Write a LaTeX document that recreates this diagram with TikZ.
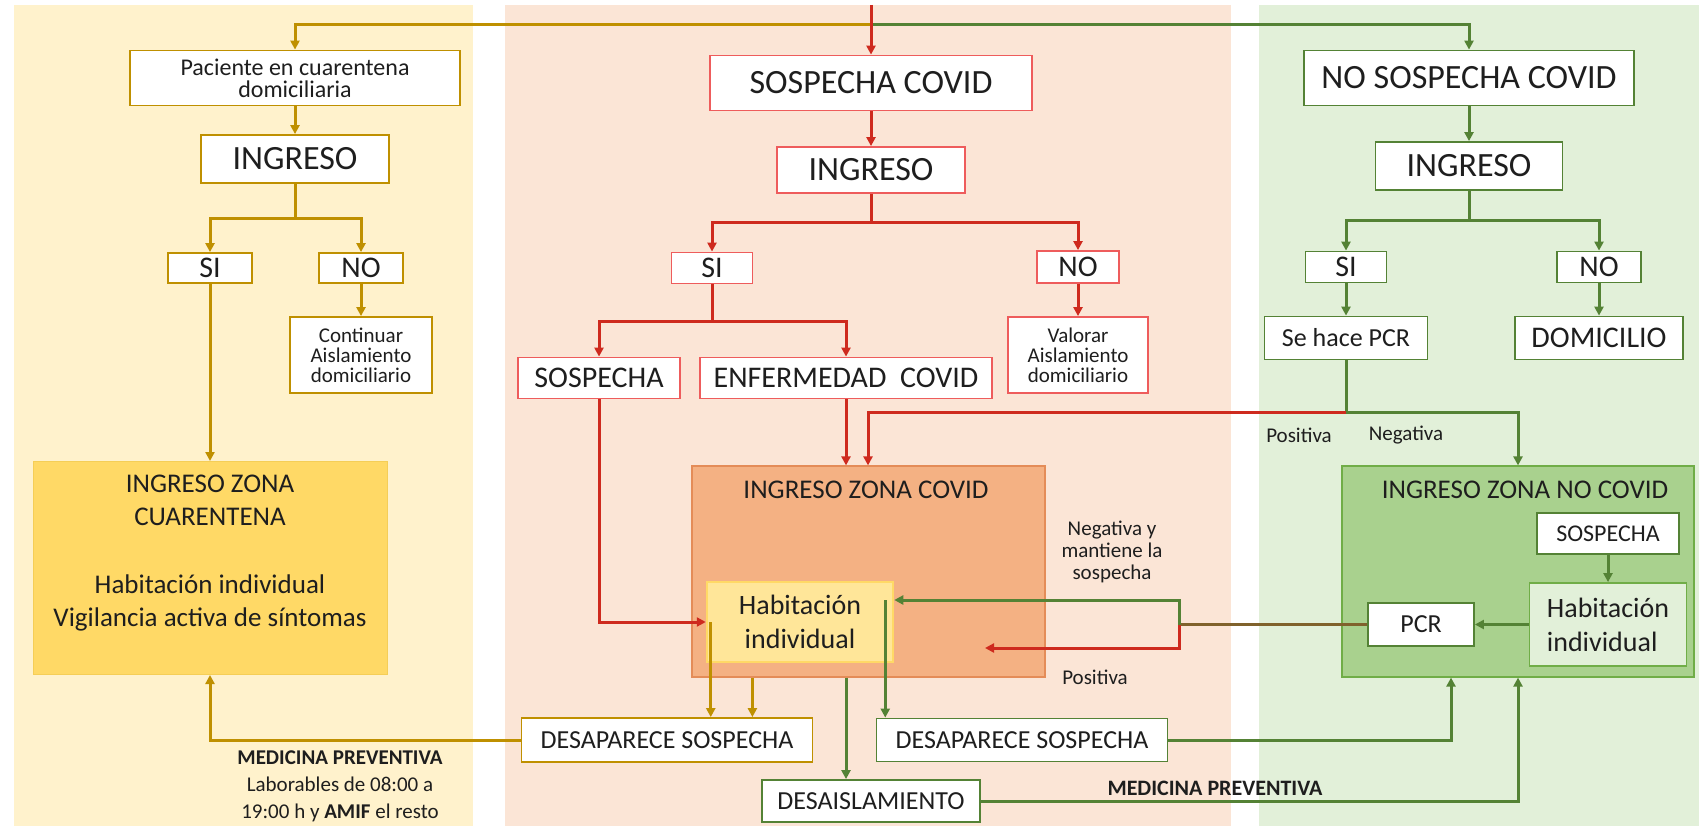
\documentclass[tikz,border=0pt]{standalone}
\usepackage{fontspec}
\setmainfont{Carlito}
\definecolor{mlgold}{RGB}{191,144,0}
\definecolor{mlred}{RGB}{206,42,30}
\definecolor{mlredlt}{RGB}{238,92,92}
\definecolor{mlgreen}{RGB}{84,130,53}
\definecolor{mlolive}{RGB}{128,98,44}
\definecolor{mltext}{RGB}{30,30,30}
\definecolor{bgyellow}{RGB}{255,242,204}
\definecolor{bgsalmon}{RGB}{251,229,214}
\definecolor{bggreen}{RGB}{226,240,217}
\definecolor{cuarfill}{RGB}{255,217,102}
\definecolor{covfill}{RGB}{244,177,131}
\definecolor{covdraw}{RGB}{228,140,88}
\definecolor{habfill}{RGB}{255,230,153}
\definecolor{ncfill}{RGB}{169,209,142}
\definecolor{ncdraw}{RGB}{112,173,71}
\usetikzlibrary{arrows.meta}

\begin{document}
\begin{tikzpicture}[x=1pt,y=-1pt,>={Triangle[length=9pt,width=9pt]},
  box/.style={draw,fill=white,line width=1.8pt,inner sep=0pt,align=center,text=mltext},
  goldbox/.style={box,draw=mlgold},
  redbox/.style={box,draw=mlredlt},
  greenbox/.style={box,draw=mlgreen},
  goldln/.style={draw=mlgold,line width=3pt},
  redln/.style={draw=mlred,line width=3pt},
  greenln/.style={draw=mlgreen,line width=3pt},
  fbig/.style={font=\fontsize{34}{38}\selectfont},
  fmid/.style={font=\fontsize{30}{32}\selectfont},
  fbox/.style={font=\fontsize{26}{30}\selectfont},
  fzone/.style={font=\fontsize{27}{33}\selectfont},
  fhab/.style={font=\fontsize{28}{34}\selectfont},
  fsmall/.style={font=\fontsize{24}{22}\selectfont},
  ftiny/.style={font=\fontsize{21}{20}\selectfont},
  flabel/.style={font=\fontsize{21}{22}\selectfont,text=mltext,align=center,inner sep=0pt}]
  \useasboundingbox (0,0) rectangle (1699,826);
  %% Column backgrounds
  \fill[bgyellow] (14,5) rectangle (473,826);
  \fill[bgsalmon] (505,5) rectangle (1231,826);
  \fill[bggreen] (1259,5) rectangle (1699,826);

  %% Quarantine column
  \node[goldbox,fsmall,minimum width=330,minimum height=55] (pac) at (295,78) {Paciente en cuarentena\\domiciliaria};
  \node[goldbox,fbig,minimum width=188,minimum height=48] (ingL) at (295,159) {INGRESO};
  \node[goldbox,fmid,minimum width=84,minimum height=30] (siL) at (210,268) {SI};
  \node[goldbox,fmid,minimum width=84,minimum height=30] (noL) at (361,268) {NO};
  \node[goldbox,ftiny,minimum width=142,minimum height=76] (contL) at (361,355) {Continuar\\Aislamiento\\domiciliario};
  \node[draw=cuarfill!85!mlgold,fill=cuarfill,line width=1pt,minimum width=354,minimum height=213] (cuar) at (210,568) {};
  \node[fzone,text=mltext,align=center] (cuarT) at (210,553) {INGRESO ZONA\\CUARENTENA\\[35pt]Habitación individual\\Vigilancia activa de síntomas};

  %% Covid column
  \node[redbox,fbig,minimum width=322,minimum height=55] (sosC) at (871,83) {SOSPECHA COVID};
  \node[redbox,fbig,minimum width=188,minimum height=46] (ingM) at (871,170) {INGRESO};
  \node[redbox,fmid,minimum width=81,minimum height=31] (siM) at (712,268) {SI};
  \node[redbox,fmid,minimum width=82,minimum height=32] (noM) at (1078,267) {NO};
  \node[redbox,ftiny,minimum width=140,minimum height=76] (valM) at (1078,355) {Valorar\\Aislamiento\\domiciliario};
  \node[redbox,fmid,minimum width=162,minimum height=41] (sosM) at (599,378) {SOSPECHA};
  \node[redbox,fmid,minimum width=292,minimum height=41] (enfM) at (846,378) {ENFERMEDAD~ COVID};
  \node[draw=covdraw,fill=covfill,line width=1.2pt,minimum width=353,minimum height=211] (zcov) at (868.5,571.5) {};
  \node[fzone,text=mltext] (zcovT) at (866,490) {INGRESO ZONA COVID};
  \node[box,draw=cuarfill,fill=habfill,fhab,line width=2.5pt,minimum width=186,minimum height=80] (habC) at (800,622) {Habitación\\individual};
  \node[goldbox,fbox,minimum width=291,minimum height=44] (desL) at (667,740) {DESAPARECE SOSPECHA};
  \node[greenbox,fbox,minimum width=291,minimum height=43] (desR) at (1022,740) {DESAPARECE SOSPECHA};
  \node[greenbox,fbox,minimum width=218,minimum height=42] (desA) at (871,801) {DESAISLAMIENTO};

  %% Non covid column
  \node[greenbox,fbig,minimum width=330,minimum height=55] (noS) at (1469,78) {NO SOSPECHA COVID};
  \node[greenbox,fbig,minimum width=187,minimum height=48] (ingR) at (1469,166) {INGRESO};
  \node[greenbox,fmid,minimum width=81,minimum height=31] (siR) at (1346,267) {SI};
  \node[greenbox,fmid,minimum width=84,minimum height=31] (noR) at (1599,267) {NO};
  \node[greenbox,fbox,minimum width=163,minimum height=43] (pcrS) at (1346,338) {Se hace PCR};
  \node[greenbox,fmid,minimum width=168,minimum height=43] (domR) at (1599,338) {DOMICILIO};
  \node[draw=ncdraw,fill=ncfill,line width=1.2pt,minimum width=352,minimum height=211] (znc) at (1518,571.5) {};
  \node[fzone,text=mltext] (zncT) at (1525,490) {INGRESO ZONA NO COVID};
  \node[greenbox,fsmall,minimum width=142,minimum height=41] (sosG) at (1608,533.5) {SOSPECHA};
  \node[box,draw=ncdraw,fill=bggreen,fhab,align=left,minimum width=157,minimum height=83] (habG) at (1608,624.5) {Habitación\\individual};
  \node[greenbox,fbox,minimum width=106,minimum height=43] (pcrG) at (1421,624.5) {PCR};

  %% Labels
  \node[flabel] (lpos) at (1299,435) {Positiva};
  \node[flabel] (lneg) at (1406,435) {Negativa};
  \node[flabel] (lneg2) at (1112,552) {Negativa y\\mantiene la\\sospecha};
  \node[flabel] (lpos2) at (1095,677) {Positiva};
  \node[flabel,font=\fontsize{22}{24}\selectfont\bfseries] (lmed) at (1215,788) {MEDICINA PREVENTIVA};
  \node[flabel,font=\fontsize{21}{27}\selectfont] (lmedL) at (340,786) {\textbf{MEDICINA PREVENTIVA}\\Laborables de 08:00 a\\19:00 h y \textbf{AMIF} el resto};

  %% Entry
  \coordinate (rtop) at (871,5);
  \coordinate (jt) at (871,25);
  \draw[goldln,->] (jt) -| (pac);
  \draw[greenln,->] (jt) -| (noS);
  \draw[redln,->] (rtop) -- (sosC);

  %% Quarantine connectors
  \draw[goldln,->] (pac) -- (ingL);
  \draw[goldln] (ingL.south) -- ++(0,35) coordinate (jl);
  \draw[goldln,->] (jl) -| (siL);
  \draw[goldln,->] (jl) -| (noL);
  \draw[goldln,->] (noL) -- (contL);
  \draw[goldln,->] (siL) -- (cuar);

  %% Covid connectors
  \draw[redln,->] (sosC) -- (ingM);
  \draw[redln] (ingM.south) -- ++(0,29) coordinate (jm);
  \draw[redln,->] (jm) -| (siM);
  \draw[redln,->] (jm) -| (noM);
  \draw[redln,->] (noM) -- (valM);
  \draw[redln] (siM.south) -- ++(0,37) coordinate (js);
  \draw[redln,->] (js) -| (sosM);
  \draw[redln,->] (js) -| (enfM);
  \draw[redln,->] (enfM.south) -- (enfM.south |- zcov.north);
  \draw[redln,->] (sosM.south) |- (habC.west);

  %% Non covid connectors
  \draw[greenln,->] (noS) -- (ingR);
  \draw[greenln] (ingR.south) -- ++(0,30) coordinate (jr);
  \draw[greenln,->] (jr) -| (siR);
  \draw[greenln,->] (jr) -| (noR);
  \draw[greenln,->] (siR) -- (pcrS);
  \draw[greenln,->] (noR) -- (domR);
  \draw[greenln] (pcrS.south) -- ++(0,52) coordinate (jp);
  \draw[redln,->] (jp) -| ([xshift=22pt]enfM.south |- zcov.north);
  \draw[greenln,->] (jp) -| (znc);
  \draw[greenln,->] (sosG) -- (habG);
  \draw[greenln,->] (habG) -- (pcrG);

  %% PCR result back to covid zone
  \coordinate (pk) at ([xshift=-188pt]pcrG.west);
  \coordinate (hce) at ([yshift=22pt]habC.east);
  \coordinate (gk) at ([xshift=-9pt]hce);
  \coordinate (rpos) at (985,648);
  \draw[line width=3pt,mlolive] (pcrG.west) -- (pk);
  \draw[greenln,->] (pk) |- (hce);
  \draw[redln,->] (pk) |- (rpos);
  \draw[greenln,->] (gk) -- (gk |- desR.north);

  %% Exits
  \coordinate (gh) at ([xshift=5pt]habC.west);
  \coordinate (gz) at ([xshift=61pt]zcov.south west);
  \draw[goldln,->] (gh) -- (gh |- desL.north);
  \draw[goldln,->] (gz) -- (gz |- desL.north);
  \draw[goldln,->] (desL) -| (cuar);
  \draw[greenln,->] (enfM.south |- zcov.south) -- (enfM.south |- desA.north);
  \draw[greenln,->] (desR) -| ([xshift=-67pt]znc.south);
  \draw[greenln,->] (desA) -| (znc);
\end{tikzpicture}
\end{document}
